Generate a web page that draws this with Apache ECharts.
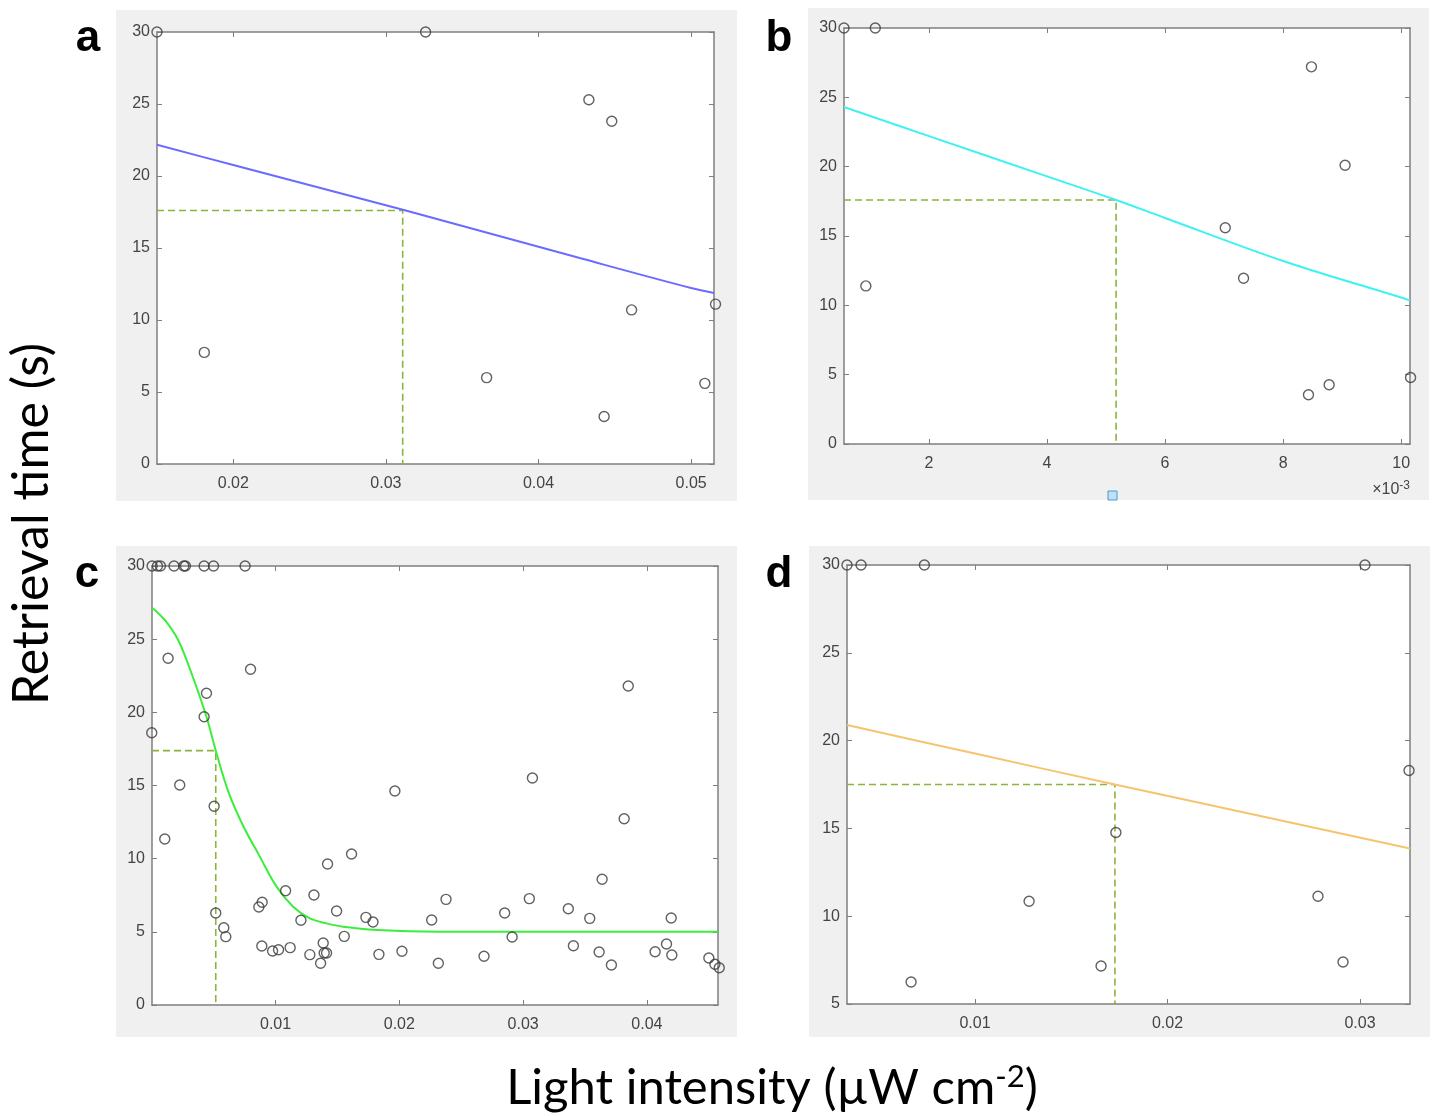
<!DOCTYPE html>
<html>
<head>
<meta charset="utf-8">
<script src="https://cdn.jsdelivr.net/npm/echarts@6/dist/echarts.min.js"></script>
<style>
html,body{margin:0;padding:0;background:#fff;}
#chart{width:1439px;height:1116px;}
</style>
</head>
<body>
<div id="chart"></div>
<script>
// ---------------- DATA ----------------
// Panel a
const aX = [0.0150, 0.0326, 0.0181, 0.0433, 0.0448, 0.0366, 0.0461, 0.0516, 0.0509, 0.0443];
const aY = [30, 30, 7.75, 25.3, 23.8, 6.0, 10.7, 11.1, 5.6, 3.3];
const aFitX = [0.0150, 0.0200, 0.0313, 0.0427, 0.0500, 0.0515];
const aFitY = [22.17, 20.76, 17.6, 14.3, 12.22, 11.88];
const aRefX = 0.0311, aRefY = 17.6;
const aXTicks = [0.02, 0.03, 0.04, 0.05];

// Panel b
const bX = [0.00056, 0.00109, 0.00093, 0.00848, 0.00905, 0.00702, 0.00733, 0.00843, 0.00878, 0.01016];
const bY = [30, 30, 11.4, 27.2, 20.1, 15.6, 11.95, 3.55, 4.27, 4.8];
const bFitX = [0.00056, 0.002, 0.004, 0.00517, 0.006, 0.008, 0.010, 0.01015];
const bFitY = [24.3, 22.2, 19.3, 17.6, 16.3, 13.2, 10.56, 10.34];
const bRefX = 0.00517, bRefY = 17.6;
const bXTicks = [0.002, 0.004, 0.006, 0.008, 0.010];

// Panel c
const cX = [0.00003, 0.00046, 0.00070, 0.00180, 0.00259, 0.00272, 0.00423, 0.00499, 0.00754,
  0.00132, 0.00798, 0.00442, 0.00423, 0.00000, 0.00226, 0.01964,
  0.00504, 0.00105, 0.01420, 0.01614, 0.01081, 0.01310, 0.00892, 0.00865, 0.00517, 0.01493,
  0.00582, 0.00598, 0.01205, 0.01730, 0.01787, 0.02261, 0.01555, 0.00889, 0.00976, 0.01024,
  0.01118, 0.01277, 0.01385, 0.01393, 0.01412, 0.01364, 0.01835, 0.02021, 0.02315,
  0.03816, 0.03638, 0.02377, 0.03050, 0.02851, 0.03365, 0.03538, 0.04196, 0.02911, 0.03406,
  0.03614, 0.03713, 0.02684, 0.04066, 0.04158, 0.04201, 0.04500, 0.04549, 0.04584,
  0.03075, 0.03849];
const cY = [30, 30, 30, 30, 30, 30, 30, 30, 30,
  23.7, 22.94, 21.3, 19.7, 18.6, 15.03, 14.62,
  13.58, 11.34, 9.64, 10.32, 7.81, 7.52, 7.02, 6.70, 6.29, 6.42,
  5.28, 4.67, 5.79, 5.99, 5.67, 5.81, 4.69, 4.03, 3.69, 3.78,
  3.92, 3.44, 4.24, 3.55, 3.55, 2.85, 3.46, 3.67, 2.85,
  12.73, 8.59, 7.22, 7.27, 6.29, 6.58, 5.92, 5.95, 4.65, 4.05,
  3.62, 2.73, 3.33, 3.64, 4.17, 3.42, 3.21, 2.78, 2.55,
  15.51, 21.8];
const cFitX = [0.00003, 0.00105, 0.00213, 0.00321, 0.00442, 0.00517, 0.00620, 0.00738, 0.00873,
  0.01008, 0.01142, 0.01277, 0.01412, 0.01546, 0.01817, 0.02328, 0.03000, 0.04574];
const cFitY = [27.15, 26.31, 24.94, 22.67, 19.70, 17.38, 14.55, 12.25, 10.14,
  8.09, 6.72, 5.92, 5.58, 5.35, 5.13, 5.01, 5.0, 5.0];
const cRefX = 0.00517, cRefY = 17.38;
const cXTicks = [0.01, 0.02, 0.03, 0.04];

// Panel d
const dX = [0.00335, 0.00408, 0.00737, 0.03026, 0.03255, 0.01732, 0.01281, 0.00668, 0.01655, 0.02782, 0.02912];
const dY = [30, 30, 30, 30, 18.3, 14.77, 10.85, 6.25, 7.16, 11.14, 7.39];
const dFitX = [0.00335, 0.0100, 0.01727, 0.0326];
const dFitY = [20.89, 19.26, 17.5, 13.86];
const dRefX = 0.01727, dRefY = 17.5;
const dXTicks = [0.01, 0.02, 0.03];

const panelLetters = ['a', 'b', 'c', 'd'];

// ---------------- LAYOUT ----------------
const panels = [
  {x: aX, y: aY, fx: aFitX, fy: aFitY, rx: aRefX, ry: aRefY, ticks: aXTicks,
   xMin: 0.0150, xMax: 0.0515, yMin: 0, yMax: 30, color: '#6b6bff',
   grid: {left: 157, top: 32, width: 557, height: 432}, bg: [116, 10, 621, 491], scale: 1},
  {x: bX, y: bY, fx: bFitX, fy: bFitY, rx: bRefX, ry: bRefY, ticks: bXTicks,
   xMin: 0.00056, xMax: 0.01015, yMin: 0, yMax: 30, color: '#3ff2f2',
   grid: {left: 844, top: 28, width: 566, height: 416}, bg: [808, 8, 621, 492], scale: 1000},
  {x: cX, y: cY, fx: cFitX, fy: cFitY, rx: cRefX, ry: cRefY, ticks: cXTicks,
   xMin: 0.00002, xMax: 0.04574, yMin: 0, yMax: 30, color: '#3cee3c',
   grid: {left: 152, top: 566, width: 566, height: 439}, bg: [116, 546, 621, 491], scale: 1},
  {x: dX, y: dY, fx: dFitX, fy: dFitY, rx: dRefX, ry: dRefY, ticks: dXTicks,
   xMin: 0.00335, xMax: 0.0326, yMin: 5, yMax: 30, color: '#f6c46e',
   grid: {left: 847, top: 565, width: 563, height: 439}, bg: [809, 546, 621, 491], scale: 1}
];

const axisGray = '#7f7f7f';
const labelStyle = {fontFamily: 'Liberation Sans', fontSize: 16, color: '#444'};

const grid = [], xAxis = [], yAxis = [], series = [], graphic = [];

panels.forEach((p, k) => {
  grid.push(Object.assign({containLabel: false, show: true, backgroundColor: '#fff', borderWidth: 0}, p.grid));
  const fmt = p.scale === 1 ? (v => String(+(+v).toPrecision(6))) : (v => String(Math.round(v * p.scale)));
  xAxis.push({
    type: 'value', gridIndex: k, position: 'bottom', min: p.xMin, max: p.xMax,
    axisLine: {show: true, onZero: false, lineStyle: {color: axisGray, width: 1.5}},
    axisTick: {show: true, inside: true, length: 5, customValues: p.ticks, lineStyle: {color: axisGray, width: 1}},
    axisLabel: Object.assign({show: true, margin: 12, customValues: p.ticks, formatter: fmt}, labelStyle),
    splitLine: {show: false}
  });
  xAxis.push({
    type: 'value', gridIndex: k, position: 'top', min: p.xMin, max: p.xMax,
    axisLine: {show: true, onZero: false, lineStyle: {color: axisGray, width: 1.5}},
    axisTick: {show: true, inside: true, length: 5, customValues: p.ticks, lineStyle: {color: axisGray, width: 1}},
    axisLabel: {show: false}, splitLine: {show: false}
  });
  yAxis.push({
    type: 'value', gridIndex: k, position: 'left', min: p.yMin, max: p.yMax, interval: 5,
    axisLine: {show: true, onZero: false, lineStyle: {color: axisGray, width: 1.5}},
    axisTick: {show: true, inside: true, length: 5, lineStyle: {color: axisGray, width: 1}},
    axisLabel: Object.assign({show: true, margin: 7}, labelStyle),
    splitLine: {show: false}
  });
  yAxis.push({
    type: 'value', gridIndex: k, position: 'right', min: p.yMin, max: p.yMax, interval: 5,
    axisLine: {show: true, onZero: false, lineStyle: {color: axisGray, width: 1.5}},
    axisTick: {show: true, inside: true, length: 5, lineStyle: {color: axisGray, width: 1}},
    axisLabel: {show: false}, splitLine: {show: false}
  });

  const xi = k * 2, yi = k * 2;
  series.push({
    type: 'line', xAxisIndex: xi, yAxisIndex: yi, symbol: 'none', silent: true, z: 2,
    data: [[p.xMin, p.ry], [p.rx, p.ry], [p.rx, p.yMin]],
    lineStyle: {color: '#8db33c', width: 1.6, type: [7, 4]}
  });
  series.push({
    type: 'line', xAxisIndex: xi, yAxisIndex: yi, symbol: 'none', silent: true,
    smooth: 0.35, z: 3,
    data: p.fx.map((v, i) => [v, p.fy[i]]),
    lineStyle: {color: p.color, width: 2}
  });
  series.push({
    type: 'scatter', xAxisIndex: xi, yAxisIndex: yi, clip: false, z: 4,
    symbol: 'circle', symbolSize: 10,
    data: p.x.map((v, i) => [v, p.y[i]]),
    itemStyle: {color: 'rgba(0,0,0,0)', borderColor: '#3a3a3a', borderWidth: 1.4}
  });

  graphic.push({
    type: 'rect', z: -100, silent: true,
    shape: {x: p.bg[0], y: p.bg[1], width: p.bg[2], height: p.bg[3]},
    style: {fill: '#f0f0f0'}
  });
});

// panel letters
const letterPos = [[88, 61], [779, 61], [87, 597], [779, 597]];
panelLetters.forEach((t, i) => {
  graphic.push({
    type: 'text', x: letterPos[i][0], y: letterPos[i][1], z: 10,
    style: {text: t, font: 'bold 44px "Liberation Sans"', fill: '#000', textAlign: 'center', textVerticalAlign: 'bottom'}
  });
});

// x10^-3 exponent label for panel b
graphic.push({
  type: 'text', x: 1410, y: 490, z: 10,
  style: {
    text: '{m|×10}{s|-3}', textAlign: 'right', textVerticalAlign: 'middle',
    rich: {
      m: {fontFamily: 'Liberation Sans', fontSize: 16, fill: '#444', color: '#444'},
      s: {fontFamily: 'Liberation Sans', fontSize: 12, fill: '#444', color: '#444', verticalAlign: 'top', padding: [0, 0, 8, 0]}
    }
  }
});

// small datatip square in panel b
graphic.push({
  type: 'rect', z: 10, silent: true,
  shape: {x: 1108, y: 491, width: 9, height: 9},
  style: {fill: '#bfe0f5', stroke: '#4a9ad4', lineWidth: 1}
});

// axis titles
graphic.push({
  type: 'text', x: 32, y: 524, rotation: Math.PI / 2, z: 10,
  style: {text: 'Retrieval time (s)', font: '50px Lato', fill: '#000', textAlign: 'center', textVerticalAlign: 'middle'}
});
graphic.push({
  type: 'text', x: 772, y: 1088, z: 10,
  style: {
    text: '{n|Light intensity (µW cm}{s|-2}{n|)}', textAlign: 'center', textVerticalAlign: 'middle',
    rich: {
      n: {fontFamily: 'Lato', fontSize: 49, color: '#000', fill: '#000'},
      s: {fontFamily: 'Lato', fontSize: 31, color: '#000', fill: '#000', verticalAlign: 'top', padding: [0, 0, 22, 0]}
    }
  }
});

const chart = echarts.init(document.getElementById('chart'), null, {renderer: 'canvas'});
chart.setOption({
  backgroundColor: '#ffffff',
  animation: false,
  grid, xAxis, yAxis, series, graphic
});
</script>
</body>
</html>
